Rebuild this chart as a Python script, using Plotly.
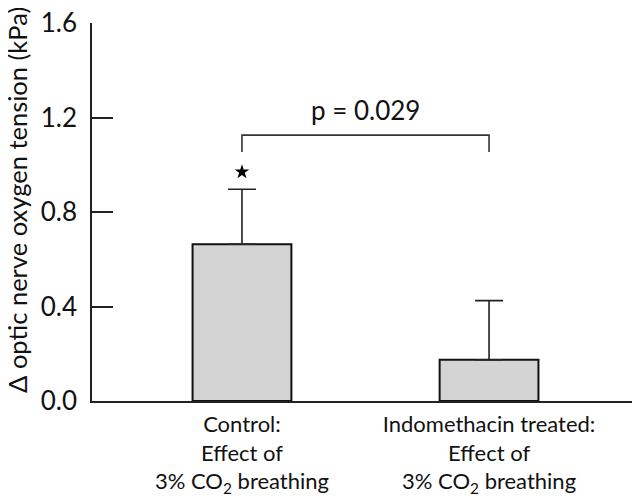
import plotly.graph_objects as go

categories = ["Control:<br>Effect of<br>3% CO<sub>2</sub> breathing",
              "Indomethacin treated:<br>Effect of<br>3% CO<sub>2</sub> breathing"]
means = [0.664, 0.175]
sem_upper = [0.233, 0.250]
star_y = [0.97]
bracket_x = [0, 0, 1, 1]
bracket_y = [1.054, 1.126, 1.126, 1.054]
p_label = "p = 0.029"
p_y = 1.232
y_ticks = [0.0, 0.4, 0.8, 1.2, 1.6]
y_tick_text = ["0.0", "0.4", "0.8", "1.2", "1.6"]
y_title = "Δ optic nerve oxygen tension (kPa)"

FONT = "Lato"
xs = [0, 1]

# page body has an 8px margin, so the figure is sized to the visible area
W, H = 632, 490
L, T, B = 84, 15, 96.5

fig = go.Figure()
fig.add_trace(go.Bar(
    x=xs, y=means, width=0.40,
    marker=dict(color="#d4d4d4", line=dict(color="#111111", width=2)),
    error_y=dict(type="data", symmetric=False, array=sem_upper, arrayminus=[0, 0],
                 color="#222222", thickness=1.6, width=14),
    showlegend=False, hoverinfo="skip",
))
fig.add_trace(go.Scatter(
    x=bracket_x, y=bracket_y, mode="lines",
    line=dict(color="#333333", width=1.6), showlegend=False, hoverinfo="skip",
))
fig.add_trace(go.Scatter(
    x=[0], y=star_y, mode="markers",
    marker=dict(symbol="star", size=11, color="#000000"), showlegend=False, hoverinfo="skip",
))
fig.add_annotation(x=0.5, y=p_y, text=p_label, showarrow=False,
                   font=dict(family=FONT, size=26, color="#111111"))
fig.add_annotation(xref="paper", yref="paper", x=(9 - L) / (W - L), y=0.532,
                   text=y_title, textangle=-90, showarrow=False,
                   xanchor="center", yanchor="middle",
                   font=dict(family=FONT, size=25.5, color="#111111"))

fig.update_layout(
    width=W, height=H,
    margin=dict(l=L, r=0, t=T, b=B),
    plot_bgcolor="white", paper_bgcolor="white",
    font=dict(family=FONT, color="#111111"),
)
fig.update_xaxes(
    range=[-0.607, 1.611], tickvals=xs, ticktext=categories, automargin=False,
    showgrid=False, zeroline=False, showline=True, linecolor="#222222", linewidth=1.6,
    ticks="", ticklabelstandoff=3, tickfont=dict(family=FONT, size=22, color="#111111"),
)
fig.update_yaxes(
    range=[0, 1.6008], tickvals=y_ticks, ticktext=y_tick_text, automargin=False,
    showgrid=False, zeroline=False, showline=True, linecolor="#222222", linewidth=1.6,
    ticks="inside", ticklen=21, tickwidth=1.6, tickcolor="#222222",
    ticklabelstandoff=8, ticklabeloverflow="allow",
    tickfont=dict(family=FONT, size=26, color="#111111"),
)
fig.write_html("out.html")
